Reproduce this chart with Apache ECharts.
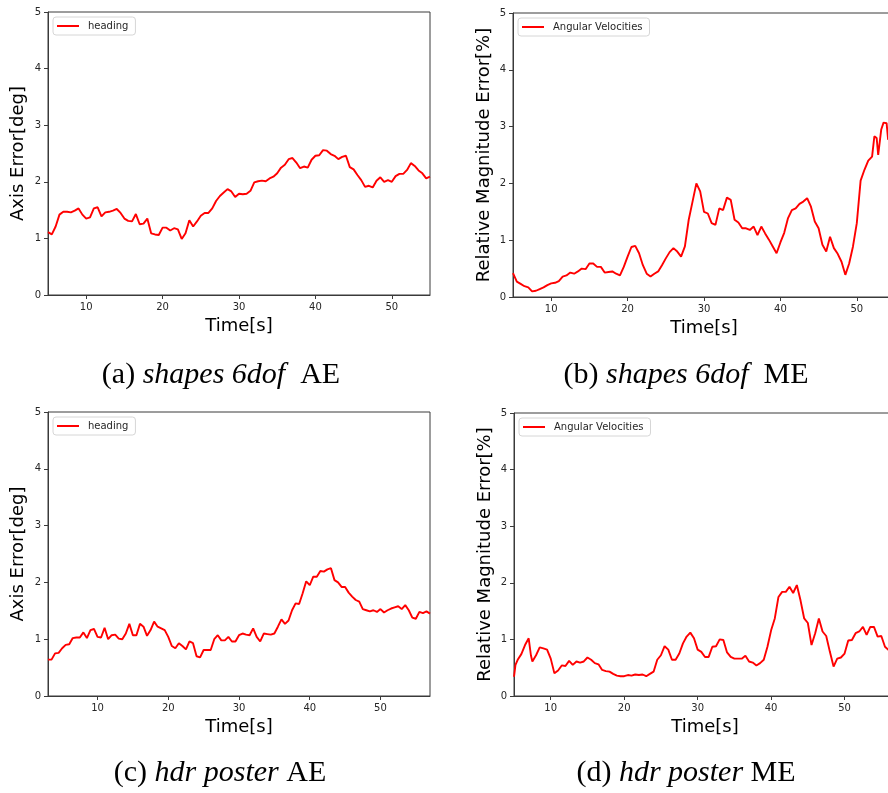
<!DOCTYPE html>
<html>
<head>
<meta charset="utf-8">
<script src="https://cdn.jsdelivr.net/npm/echarts@6/dist/echarts.min.js"></script>
<style>
  html, body { margin: 0; padding: 0; background: #fff; }
  #chart { width: 888px; height: 793px; }
</style>
</head>
<body>
<div id="chart"></div>
<script>
// (a) shapes 6dof, heading axis error [deg]
const shapesAeTime = [5,5.5,6,6.5,7,7.5,8,8.5,9,9.5,10,10.5,11,11.5,12,12.5,13,13.5,14,14.5,15,15.5,16,16.5,17,17.5,18,18.5,19,19.5,20,20.5,21,21.5,22,22.5,23,23.5,24,24.5,25,25.5,26,26.5,27,27.5,28,28.5,29,29.5,30,30.5,31,31.5,32,32.5,33,33.5,34,34.5,35,35.5,36,36.5,37,37.5,38,38.5,39,39.5,40,40.5,41,41.5,42,42.5,43,43.5,44,44.5,45,45.5,46,46.5,47,47.5,48,48.5,49,49.5,50,50.5,51,51.5,52,52.5,53,53.5,54,54.5,55];
const shapesAeHeading = [1.11,1.07,1.21,1.42,1.47,1.47,1.46,1.49,1.53,1.42,1.35,1.37,1.53,1.55,1.39,1.46,1.47,1.49,1.52,1.45,1.35,1.31,1.30,1.43,1.25,1.26,1.35,1.09,1.07,1.06,1.19,1.19,1.14,1.18,1.16,0.99,1.09,1.32,1.21,1.30,1.40,1.45,1.45,1.53,1.66,1.75,1.81,1.87,1.83,1.73,1.79,1.78,1.79,1.84,1.99,2.01,2.02,2.01,2.06,2.09,2.15,2.25,2.30,2.40,2.42,2.34,2.24,2.27,2.25,2.39,2.46,2.47,2.56,2.55,2.49,2.46,2.40,2.44,2.46,2.26,2.22,2.12,2.03,1.91,1.93,1.90,2.02,2.08,2.00,2.03,2.00,2.10,2.14,2.14,2.21,2.33,2.28,2.20,2.15,2.06,2.09];

// (b) shapes 6dof, angular velocity relative magnitude error [%]
const shapesMeTime = [5,5.5,6,6.5,7,7.5,8,8.5,9,9.5,10,10.5,11,11.5,12,12.5,13,13.5,14,14.5,15,15.5,16,16.5,17,17.5,18,18.5,19,19.5,20,20.5,21,21.5,22,22.5,23,23.5,24,24.5,25,25.5,26,26.5,27,27.5,28,28.5,29,29.5,30,30.5,31,31.5,32,32.5,33,33.5,34,34.5,35,35.5,36,36.5,37,37.5,38,38.5,39,39.5,40,40.5,41,41.5,42,42.5,43,43.5,44,44.5,45,45.5,46,46.5,47,47.5,48,48.5,49,49.5,50,50.5,51,51.5,52,52.3,52.6,52.8,53,53.2,53.5,53.9,54.1,54.5];
const shapesMeAngVel = [0.42,0.27,0.23,0.19,0.17,0.10,0.11,0.14,0.17,0.21,0.24,0.25,0.28,0.36,0.38,0.43,0.41,0.45,0.50,0.49,0.59,0.59,0.53,0.53,0.43,0.44,0.45,0.41,0.38,0.53,0.71,0.88,0.90,0.77,0.56,0.41,0.36,0.41,0.45,0.56,0.68,0.79,0.86,0.80,0.71,0.89,1.36,1.68,2.00,1.86,1.50,1.47,1.30,1.27,1.56,1.53,1.75,1.71,1.36,1.31,1.21,1.21,1.18,1.24,1.09,1.24,1.12,1.01,0.89,0.77,0.96,1.13,1.39,1.53,1.56,1.64,1.68,1.74,1.59,1.33,1.21,0.92,0.80,1.06,0.86,0.76,0.62,0.39,0.59,0.89,1.30,2.05,2.24,2.40,2.47,2.83,2.80,2.50,2.47,2.95,3.07,3.06,2.77,2.85];

// (c) hdr poster, heading axis error [deg]
const posterAeTime = [3,3.5,4,4.5,5,5.5,6,6.5,7,7.5,8,8.5,9,9.5,10,10.5,11,11.5,12,12.5,13,13.5,14,14.5,15,15.5,16,16.5,17,17.5,18,18.5,19,19.5,20,20.5,21,21.5,22,22.5,23,23.5,24,24.5,25,25.5,26,26.5,27,27.5,28,28.5,29,29.5,30,30.5,31,31.5,32,32.5,33,33.5,34,34.5,35,35.5,36,36.5,37,37.5,38,38.5,39,39.5,40,40.5,41,41.5,42,42.5,43,43.5,44,44.5,45,45.5,46,46.5,47,47.5,48,48.5,49,49.5,50,50.5,51,51.5,52,52.5,53,53.5,54,54.5,55,55.5,56,56.5,57];
const posterAeHeading = [0.64,0.64,0.75,0.76,0.84,0.90,0.91,1.02,1.03,1.03,1.12,1.02,1.16,1.18,1.04,1.03,1.20,1.00,1.07,1.08,1.01,1.00,1.10,1.27,1.07,1.07,1.27,1.22,1.06,1.16,1.31,1.22,1.19,1.16,1.04,0.88,0.84,0.93,0.88,0.82,0.96,0.93,0.70,0.68,0.81,0.81,0.81,1.00,1.07,0.98,0.98,1.04,0.96,0.96,1.07,1.10,1.08,1.07,1.19,1.04,0.96,1.10,1.09,1.08,1.10,1.22,1.35,1.27,1.33,1.51,1.63,1.62,1.81,2.02,1.95,2.10,2.10,2.20,2.19,2.23,2.25,2.04,2.00,1.92,1.92,1.82,1.75,1.69,1.66,1.53,1.51,1.49,1.51,1.48,1.53,1.47,1.51,1.54,1.56,1.58,1.53,1.60,1.51,1.38,1.36,1.48,1.46,1.49,1.45];

// (d) hdr poster, angular velocity relative magnitude error [%]
const posterMeTime = [5,5.2,5.5,6,6.5,7,7.3,7.5,8,8.5,9,9.5,10,10.5,11,11.5,12,12.5,13,13.5,14,14.5,15,15.5,16,16.5,17,17.5,18,18.5,19,19.5,20,20.5,21,21.5,22,22.5,23,23.5,24,24.5,25,25.5,26,26.5,27,27.5,28,28.5,29,29.5,30,30.5,31,31.5,32,32.5,33,33.5,34,34.5,35,35.5,36,36.5,37,37.5,38,38.5,39,39.5,40,40.5,41,41.5,42,42.5,43,43.5,44,44.5,45,45.5,46,46.5,47,47.5,48,48.5,49,49.5,50,50.5,51,51.5,52,52.5,53,53.5,54,54.5,55,55.5,56,56.5];
const posterMeAngVel = [0.34,0.55,0.64,0.74,0.90,1.02,0.72,0.61,0.72,0.86,0.84,0.82,0.66,0.40,0.45,0.54,0.53,0.62,0.55,0.61,0.59,0.61,0.68,0.64,0.58,0.56,0.46,0.44,0.43,0.39,0.36,0.35,0.35,0.37,0.36,0.38,0.37,0.38,0.35,0.39,0.43,0.64,0.72,0.88,0.82,0.64,0.64,0.75,0.93,1.05,1.12,1.02,0.82,0.78,0.69,0.69,0.87,0.88,1.00,0.99,0.77,0.69,0.66,0.66,0.66,0.71,0.61,0.59,0.54,0.58,0.64,0.87,1.16,1.37,1.75,1.84,1.84,1.93,1.82,1.96,1.69,1.37,1.29,0.90,1.11,1.37,1.14,1.06,0.78,0.52,0.66,0.68,0.75,0.98,0.99,1.11,1.14,1.22,1.08,1.22,1.22,1.05,1.06,0.87,0.81,0.80];

// shared tick labels
const timeTicks = [10, 20, 30, 40, 50];
const errorTicks = [0, 1, 2, 3, 4, 5];

const panels = [
  { grid: { left: 48, top: 12, width: 382, height: 283 }, xMin: 5, xMax: 55, yName: 'Axis Error[deg]', yGap: 21, series: 'heading', time: shapesAeTime, values: shapesAeHeading },
  { grid: { left: 513, top: 13, width: 382, height: 284 }, xMin: 5, xMax: 55, yName: 'Relative Magnitude Error[%]', yGap: 20, series: 'Angular Velocities', time: shapesMeTime, values: shapesMeAngVel },
  { grid: { left: 48, top: 412, width: 382, height: 284 }, xMin: 3, xMax: 57, yName: 'Axis Error[deg]', yGap: 21, series: 'heading', time: posterAeTime, values: posterAeHeading },
  { grid: { left: 514, top: 413, width: 382, height: 283 }, xMin: 5, xMax: 57, yName: 'Relative Magnitude Error[%]', yGap: 20, series: 'Angular Velocities', time: posterMeTime, values: posterMeAngVel }
];

const captions = [
  { x: 221, y: 375, label: '(a) ', scene: 'shapes 6dof', metric: '  AE' },
  { x: 686, y: 375, label: '(b) ', scene: 'shapes 6dof', metric: '  ME' },
  { x: 220, y: 773, label: '(c) ', scene: 'hdr poster', metric: ' AE' },
  { x: 686, y: 773, label: '(d) ', scene: 'hdr poster', metric: ' ME' }
];

const SANS = '"DejaVu Sans", sans-serif';
const SERIF = '"Liberation Serif", "DejaVu Serif", serif';
const spine = '#3a3a3a';
const tickText = '#262626';

const option = {
  animation: false,
  backgroundColor: '#ffffff',
  grid: panels.map(p => Object.assign({
    show: true, borderColor: spine, borderWidth: 1, backgroundColor: 'transparent',
    outerBoundsMode: 'none', containLabel: false
  }, p.grid)),
  xAxis: panels.map((p, i) => ({
    type: 'value', gridIndex: i, min: p.xMin, max: p.xMax,
    name: 'Time[s]', nameLocation: 'middle', nameGap: 22,
    nameTextStyle: { fontFamily: SANS, fontSize: 18, color: '#000', verticalAlign: 'top' },
    axisLine: { show: true, lineStyle: { color: spine, width: 1 } },
    axisTick: { show: true, length: 4, inside: false, customValues: timeTicks, lineStyle: { color: spine } },
    axisLabel: { show: true, margin: 7, fontFamily: SANS, fontSize: 10, color: tickText, customValues: timeTicks },
    splitLine: { show: false }
  })),
  yAxis: panels.map((p, i) => ({
    type: 'value', gridIndex: i, min: errorTicks[0], max: errorTicks[errorTicks.length - 1], interval: 1,
    name: p.yName, nameLocation: 'middle', nameGap: p.yGap, nameRotate: 90,
    nameTextStyle: { fontFamily: SANS, fontSize: 18, color: '#000' },
    axisLine: { show: true, lineStyle: { color: spine, width: 1 } },
    axisTick: { show: true, length: 4, inside: false, lineStyle: { color: spine } },
    axisLabel: { show: true, margin: 7, fontFamily: SANS, fontSize: 10, color: tickText },
    splitLine: { show: false }
  })),
  legend: panels.map(p => ({
    data: [p.series],
    left: p.grid.left + 5,
    top: p.grid.top + 5,
    orient: 'vertical',
    icon: 'rect',
    itemWidth: 22,
    itemHeight: 2,
    itemGap: 0,
    padding: [4, 7, 4, 4],
    backgroundColor: 'rgba(255,255,255,0.8)',
    borderColor: '#d6d6d6',
    borderWidth: 1,
    borderRadius: 3,
    selectedMode: false,
    textStyle: { fontFamily: SANS, fontSize: 10, color: tickText, padding: [0, 0, 0, 4] }
  })),
  series: panels.map((p, i) => ({
    type: 'line', name: p.series, xAxisIndex: i, yAxisIndex: i,
    data: p.time.map((t, k) => [t, p.values[k]]),
    showSymbol: false, symbol: 'none',
    clip: true,
    lineStyle: { color: '#ff0000', width: 1.9 },
    itemStyle: { color: '#ff0000' }
  })),
  graphic: captions.map(c => ({
    type: 'text',
    x: c.x, y: c.y,
    style: {
      text: '{n|' + c.label + '}{i|' + c.scene + '}{n|' + c.metric + '}',
      align: 'center', verticalAlign: 'middle',
      rich: {
        n: { fontFamily: SERIF, fontSize: 30, fill: '#000' },
        i: { fontFamily: SERIF, fontStyle: 'italic', fontSize: 30, fill: '#000' }
      }
    }
  }))
};

const chart = echarts.init(document.getElementById('chart'), null, { renderer: 'canvas' });
chart.setOption(option);
</script>
</body>
</html>
